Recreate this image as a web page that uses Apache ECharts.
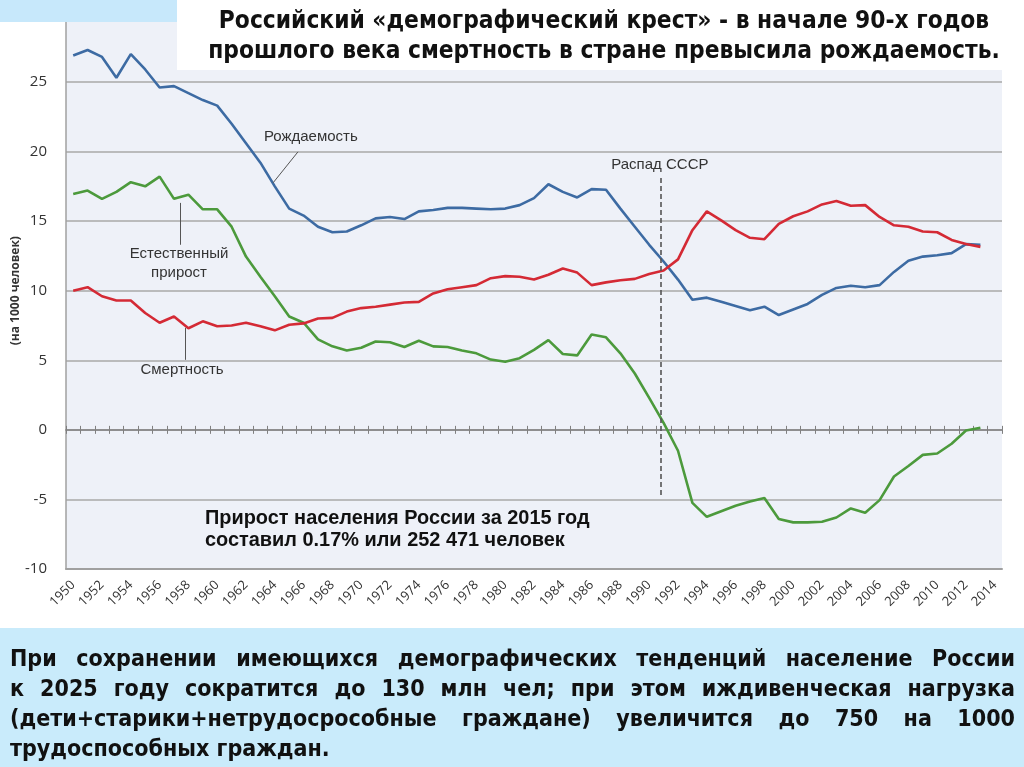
<!DOCTYPE html>
<html><head><meta charset="utf-8">
<script src="https://cdn.jsdelivr.net/npm/echarts@6/dist/echarts.min.js"></script>
<style>html,body{margin:0;padding:0;background:#fff}#c{width:1024px;height:767px}</style>
</head><body><div id="c"></div><script>
// ---------- DATA ----------
const years = ['1950','1951','1952','1953','1954','1955','1956','1957','1958','1959',
 '1960','1961','1962','1963','1964','1965','1966','1967','1968','1969',
 '1970','1971','1972','1973','1974','1975','1976','1977','1978','1979',
 '1980','1981','1982','1983','1984','1985','1986','1987','1988','1989',
 '1990','1991','1992','1993','1994','1995','1996','1997','1998','1999',
 '2000','2001','2002','2003','2004','2005','2006','2007','2008','2009',
 '2010','2011','2012','2013','2014'];
// Рождаемость (births per 1000)
const birthRate = [26.9,27.3,26.8,25.3,27.0,25.9,24.6,24.7,24.2,23.7,
 23.3,22.0,20.6,19.2,17.5,15.9,15.4,14.6,14.2,14.25,
 14.7,15.2,15.3,15.15,15.7,15.8,15.95,15.95,15.9,15.85,
 15.9,16.15,16.65,17.65,17.1,16.7,17.3,17.25,15.9,14.6,
 13.3,12.1,10.8,9.35,9.5,9.2,8.9,8.6,8.85,8.25,
 8.65,9.05,9.7,10.2,10.35,10.25,10.4,11.35,12.15,12.45,
 12.55,12.7,13.35,13.3];
// Смертность (deaths per 1000)
const deathRate = [10.0,10.25,9.6,9.3,9.3,8.4,7.7,8.15,7.3,7.8,
 7.45,7.5,7.7,7.45,7.15,7.55,7.65,8.0,8.05,8.5,
 8.75,8.85,9.0,9.15,9.2,9.8,10.1,10.25,10.4,10.9,
 11.05,11.0,10.8,11.15,11.6,11.3,10.4,10.6,10.75,10.85,
 11.2,11.45,12.25,14.35,15.7,15.05,14.35,13.8,13.7,14.8,
 15.35,15.7,16.2,16.45,16.1,16.15,15.3,14.7,14.6,14.25,
 14.2,13.65,13.35,13.15];
// Естественный прирост (natural growth per 1000)
const naturalGrowth = [16.95,17.2,16.6,17.1,17.8,17.5,18.2,16.6,16.9,15.85,
 15.85,14.6,12.45,11.0,9.6,8.15,7.7,6.5,6.0,5.7,
 5.9,6.35,6.3,5.95,6.4,6.0,5.95,5.7,5.5,5.05,
 4.9,5.15,5.75,6.45,5.45,5.35,6.85,6.65,5.5,4.05,
 2.3,0.5,-1.5,-5.25,-6.25,-5.85,-5.45,-5.15,-4.9,-6.4,
 -6.65,-6.65,-6.6,-6.3,-5.65,-5.95,-5.05,-3.35,-2.6,-1.8,
 -1.7,-1.0,-0.05,0.15];
const seriesNames = ['Рождаемость','Смертность','Естественный\nприрост'];
const ussrLabel = 'Распад СССР';
const ussrYear = 1990.82;
const yAxisName = '(на 1000 человек)';
const titleLines = ['Российский «демографический крест» - в начале 90-х годов',
                    'прошлого века смертность в стране превысила рождаемость.'];
const noteLines = ['Прирост населения России за 2015 год','составил 0.17% или 252 471 человек'];
const boxLines = ['При сохранении имеющихся демографических тенденций население России',
 'к 2025 году сократится до 130 млн чел; при этом иждивенческая нагрузка',
 '(дети+старики+нетрудосрособные граждане) увеличится до 750 на 1000',
 'трудоспособных граждан.'];

// ---------- helpers ----------
const mctx = document.createElement('canvas').getContext('2d');
function tw(t, font){ mctx.font = font; return mctx.measureText(t).width; }
function has(f){
  const s='абвгдежзийклмнопWWWmmmiii';
  return Math.abs(tw(s,'bold 20px "'+f+'", monospace') - tw(s,'bold 20px monospace'))>0.5;
}
const NARROW = has('Liberation Sans Narrow') ? '"Liberation Sans Narrow"' :
               (has('DejaVu Sans Condensed') ? '"DejaVu Sans Condensed"' : '"Liberation Sans"');
const SANS = '"Liberation Sans", Arial, sans-serif';
const LBL = '"Open Sans", sans-serif';
function fitSize(text, fam, target){ return 20*target/tw(text,'bold 20px '+fam); }
function textEl(t, x, y, size, fam, align){
  return {type:'text', x:x, y:y, z:102, silent:true,
    style:{text:t, fontSize:size, fontWeight:'bold', fontFamily:fam, fill:'#111', align:align||'left', verticalAlign:'middle'}};
}
function justified(line, x0, x1, y, size, fam, justify){
  const font = 'bold '+size+'px '+fam;
  const words = line.split(' ');
  const ws = words.map(w=>tw(w,font));
  const total = ws.reduce((a,b)=>a+b,0);
  const gap = (justify && words.length>1) ? (x1-x0-total)/(words.length-1) : tw(' ',font);
  let x = x0;
  return words.map((w,i)=>{ const el = textEl(w, x, y, size, fam); x += ws[i]+gap; return el; });
}

// ---------- graphics ----------
const titleSize = fitSize(titleLines[1], NARROW, 792);
const noteSize = fitSize(noteLines[0], SANS, 385);
const boxSize = fitSize(boxLines[3], NARROW, 320);
const graphics = [
  {type:'rect', z:100, silent:true, shape:{x:0,y:0,width:177,height:22}, style:{fill:'#c7e8fb'}},
  {type:'rect', z:100, silent:true, shape:{x:177,y:0,width:847,height:70}, style:{fill:'#ffffff'}},
  textEl(titleLines[0], 604, 22, titleSize, NARROW, 'center'),
  textEl(titleLines[1], 604, 52, titleSize, NARROW, 'center'),
  textEl(noteLines[0], 205, 519, noteSize, SANS),
  textEl(noteLines[1], 205, 541, noteSize, SANS),
  {type:'rect', z:100, silent:true, shape:{x:0,y:628,width:1024,height:139}, style:{fill:'#c9ebfb'}}
];
boxLines.forEach((l,i)=>{ graphics.push(...justified(l, 10, 1015, 660+30*i, boxSize, NARROW, i<3)); });

// ---------- chart ----------
const chart = echarts.init(document.getElementById('c'));
const catAxisBase = {type:'category', data:years, boundaryGap:true, position:'bottom'};
const option = {
  animation:false,
  backgroundColor:'#ffffff',
  grid:{left:66, right:22, top:12.4, bottom:198, show:true, backgroundColor:'#eef1f8', borderWidth:0,
        containLabel:false, outerBoundsMode:'none'},
  xAxis:[
    Object.assign({}, catAxisBase, {
      axisLine:{onZero:false, lineStyle:{color:'#a0a0a0', width:2}},
      axisTick:{show:false},
      axisLabel:{interval:1, rotate:45, fontSize:13, color:'#333', margin:14, fontFamily:LBL},
      splitLine:{show:false}}),
    Object.assign({}, catAxisBase, {
      axisLine:{onZero:true, onZeroAxisIndex:0, lineStyle:{color:'#8c8c8c', width:1.5}},
      axisTick:{show:true, inside:true, length:4, interval:0, lineStyle:{color:'#808080', width:1}},
      axisLabel:{show:false}, splitLine:{show:false}}),
    Object.assign({}, catAxisBase, {
      axisLine:{onZero:true, onZeroAxisIndex:0, lineStyle:{color:'#8c8c8c', width:1.5}},
      axisTick:{show:true, inside:false, length:4, interval:0, lineStyle:{color:'#808080', width:1}},
      axisLabel:{show:false}, splitLine:{show:false}}),
    {type:'value', min:1949.5, max:2014.5, show:false, splitLine:{show:false}}
  ],
  yAxis:{type:'value', min:-10, max:30, interval:5,
    name:yAxisName, nameLocation:'middle', nameGap:44, nameMoveOverlap:false,
    nameTextStyle:{fontWeight:'bold', fontSize:12, color:'#333', fontFamily:LBL},
    axisLine:{show:true, lineStyle:{color:'#a0a0a0', width:1.5}},
    axisTick:{show:false},
    axisLabel:{fontSize:15, color:'#333', margin:19, fontFamily:LBL, showMaxLabel:false},
    splitLine:{lineStyle:{color:'#a8a8a8', width:1.5}}},
  series:[
    {type:'line', name:seriesNames[0], data:birthRate, xAxisIndex:0, symbol:'none', z:3,
     lineStyle:{color:'#3d6ba3', width:2.6}, itemStyle:{color:'#3d6ba3'}},
    {type:'line', name:seriesNames[2], data:naturalGrowth, xAxisIndex:0, symbol:'none', z:3,
     lineStyle:{color:'#4c9a3c', width:2.6}, itemStyle:{color:'#4c9a3c'}},
    {type:'line', name:seriesNames[1], data:deathRate, xAxisIndex:0, symbol:'none', z:4,
     lineStyle:{color:'#d42a35', width:2.6}, itemStyle:{color:'#d42a35'}},
    {type:'line', name:'annotations', data:[], xAxisIndex:3, symbol:'none', z:5,
     markLine:{silent:true, symbol:['none','none'], animation:false, label:{show:false},
       lineStyle:{color:'#555', width:1, type:'solid'},
       data:[
         [{coord:[1965.61,19.98]},{coord:[1963.88,17.75]}],
         [{coord:[1957.42,16.31]},{coord:[1957.42,13.3]}],
         [{coord:[1957.76,7.33]},{coord:[1957.76,5.03]}],
         [{coord:[ussrYear,18.1], lineStyle:{color:'#555', width:1.6, type:[5,3]}},{coord:[ussrYear,-4.9]}]
       ]},
     markPoint:{silent:true, symbol:'circle', symbolSize:0, animation:false,
       label:{show:true, position:'inside', formatter:'{b}', color:'#333', fontSize:15, fontFamily:SANS, lineHeight:19},
       data:[
         {name:seriesNames[0], coord:[1966.5,21.06]},
         {name:seriesNames[2], coord:[1957.35,11.93]},
         {name:seriesNames[1], coord:[1957.56,4.31]},
         {name:ussrLabel, coord:[1990.74,19.05]}
       ]}}
  ],
  graphic:{elements:graphics}
};
chart.setOption(option);
</script></body></html>
